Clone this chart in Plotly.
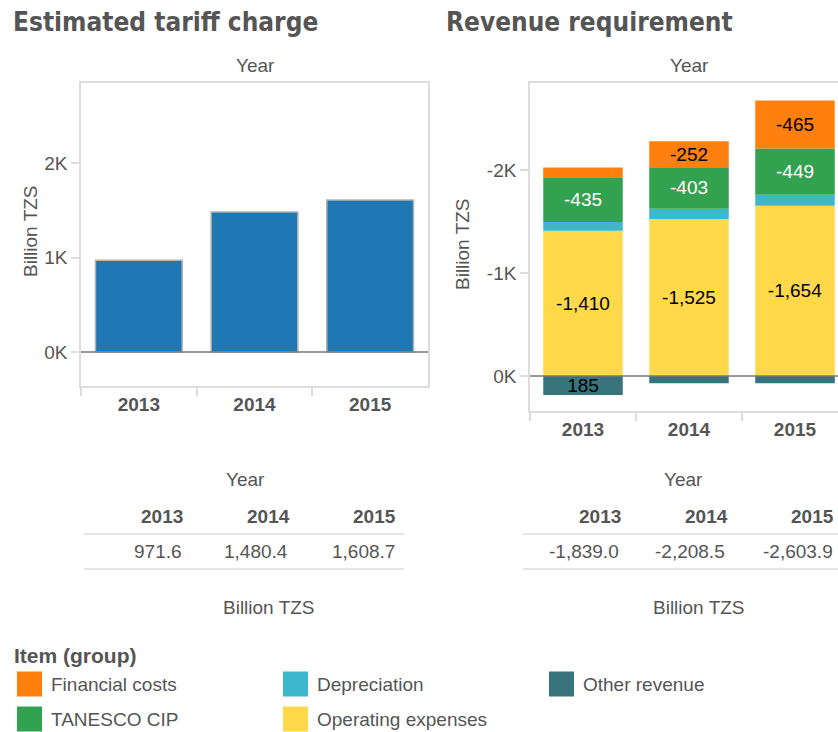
import plotly.graph_objects as go

W, H = 838, 732

# ---- data -------------------------------------------------------------
years = ["2013", "2014", "2015"]

# Estimated tariff charge (Billion TZS)
tariff_charge = [971.6, 1480.4, 1608.7]

# Revenue requirement components (Billion TZS)
financial_costs = [-94.0, -252.0, -465.0]
tanesco_cip = [-435.0, -403.0, -449.0]
depreciation = [-85.0, -99.5, -106.0]
operating_expenses = [-1410.0, -1525.0, -1654.0]
other_revenue = [185.0, 71.0, 70.1]

left_tick_vals = [0, 1000, 2000]
left_tick_text = ["0K", "1K", "2K"]
right_tick_vals = [-2000, -1000, 0]
right_tick_text = ["-2K", "-1K", "0K"]

# ---- styling ----------------------------------------------------------
FONT = "Liberation Sans, Arial, sans-serif"
TITLE_FONT = "DejaVu Sans Condensed, DejaVu Sans, sans-serif"
GREY = "#555555"
FRAME = "#dddddd"
FS = 19  # base text size

series = [
    # name, values, fill colour, label colour
    ("Operating expenses", operating_expenses, "#FFD94A", "black"),
    ("Depreciation", depreciation, "#3CB7CC", "black"),
    ("TANESCO CIP", tanesco_cip, "#32A251", "white"),
    ("Financial costs", financial_costs, "#FF7F0F", "black"),
    ("Other revenue", other_revenue, "#39737C", "black"),
]
legend_order = ["Financial costs", "TANESCO CIP", "Depreciation",
                "Operating expenses", "Other revenue"]
colour_of = {name: col for name, _, col, _ in series}
LABEL_MIN = 150  # segments smaller than this stay unlabelled


def px(x):
    return x / W


def py(y):
    return 1 - y / H


fig = go.Figure()

# left chart: tariff charge
fig.add_trace(go.Bar(
    x=years, y=tariff_charge, xaxis="x", yaxis="y",
    marker=dict(color="#1F77B4", line=dict(color="#b4b4b4", width=1.5)),
    showlegend=False, hoverinfo="x+y",
))

# right chart: stacked revenue requirement
for name, vals, col, tcol in series:
    labels = [f"{v:,.0f}" if abs(v) >= LABEL_MIN else "" for v in vals]
    fig.add_trace(go.Bar(
        x=years, y=vals, name=name, xaxis="x2", yaxis="y2",
        marker=dict(color=col, line=dict(width=0)),
        text=labels, textposition="inside", insidetextanchor="middle",
        textangle=0, textfont=dict(family=FONT, size=FS, color=tcol),
        showlegend=False,
    ))

axis_common = dict(
    showgrid=False, zeroline=False, showline=True, linecolor=FRAME,
    linewidth=1.5, ticks="outside", ticklen=8, tickcolor=FRAME, tickwidth=1.5,
    fixedrange=True,
)

fig.update_layout(
    width=W, height=H, margin=dict(l=0, r=0, t=0, b=0),
    paper_bgcolor="white", plot_bgcolor="white",
    barmode="relative", bargap=0.25,
    font=dict(family=FONT, size=FS, color=GREY),
    uniformtext=dict(minsize=FS, mode="show"),
    xaxis=dict(axis_common, domain=[px(81), px(428)], type="category",
               range=[-0.5, 2.5], mirror=True, tickson="boundaries",
               tickfont=dict(family=FONT, size=FS, color=GREY, weight="bold"),
               anchor="y"),
    yaxis=dict(axis_common, domain=[py(386), py(83)], range=[-360, 2847],
               mirror=True, tickvals=left_tick_vals, ticktext=left_tick_text,
               tickfont=dict(family=FONT, size=FS, color=GREY), anchor="x"),
    xaxis2=dict(axis_common, domain=[px(530), 1], type="category",
                range=[-0.5, 2.5 - 10 / 106], mirror=True, tickson="boundaries",
                tickfont=dict(family=FONT, size=FS, color=GREY, weight="bold"),
                anchor="y2"),
    yaxis2=dict(axis_common, domain=[py(411), py(83)], range=[340, -2845],
                mirror=False, tickvals=right_tick_vals, ticktext=right_tick_text,
                tickfont=dict(family=FONT, size=FS, color=GREY), anchor="x2"),
)

shapes = []
annotations = []

# zero baselines
for xr, yr in (("x domain", "y"), ("x2 domain", "y2")):
    shapes.append(dict(type="line", xref=xr, yref=yr, x0=0, x1=1, y0=0, y1=0,
                       line=dict(color="#777777", width=1.5), layer="above"))


def note(text, x, y, size=FS, bold=False, xanchor="center", yanchor="middle",
         angle=0, family=FONT, color=GREY):
    annotations.append(dict(
        text=text, x=px(x), y=py(y), xref="paper", yref="paper",
        xanchor=xanchor, yanchor=yanchor, showarrow=False, textangle=angle,
        font=dict(family=family, size=size, color=color,
                  weight="bold" if bold else "normal"),
    ))


# chart titles
note("Estimated tariff charge", 11, 22, size=26, bold=True, xanchor="left",
     family=TITLE_FONT)
note("Revenue requirement", 444, 22, size=26, bold=True, xanchor="left",
     family=TITLE_FONT)

# axis captions
note("Year", 255, 65)
note("Year", 689, 65)
note("Billion TZS", 30, 231, angle=-90)
note("Billion TZS", 463, 244, angle=-90)

# summary tables under each chart
tables = [
    (tariff_charge, 245, [185, 292, 398], [184, 290, 397], 84, 404, 269),
    ([sum(v) for v in zip(*[s[1] for s in series])], 683,
     [623, 730, 836], [621, 727, 835], 523, 838, 699),
]
for vals, ycx, hdr_x, val_x, lx0, lx1, unit_x in tables:
    note("Year", ycx, 480)
    for yr_lbl, hx in zip(years, hdr_x):
        note(yr_lbl, hx, 516, bold=True, xanchor="right")
    for v, vx in zip(vals, val_x):
        note(f"{v:,.1f}", vx, 551, xanchor="right")
    for ly in (534, 569):
        shapes.append(dict(type="line", xref="paper", yref="paper",
                           x0=px(lx0), x1=px(lx1), y0=py(ly), y1=py(ly),
                           line=dict(color=FRAME, width=1.5)))
    note("Billion TZS", unit_x, 607)

# colour key
note("Item (group)", 12, 655, size=21, bold=True, xanchor="left")
col_x = [17, 283, 549]
row_y = [684, 719]
for i, name in enumerate(legend_order):
    cx, ry = col_x[i // 2], row_y[i % 2]
    shapes.append(dict(type="rect", xref="paper", yref="paper",
                       x0=px(cx), x1=px(cx + 25), y0=py(ry + 12.5),
                       y1=py(ry - 12.5), fillcolor=colour_of[name],
                       line=dict(width=0)))
    note(name, cx + 32, ry, size=19, xanchor="left")

fig.update_layout(shapes=shapes, annotations=annotations)
fig.write_html("out.html")
